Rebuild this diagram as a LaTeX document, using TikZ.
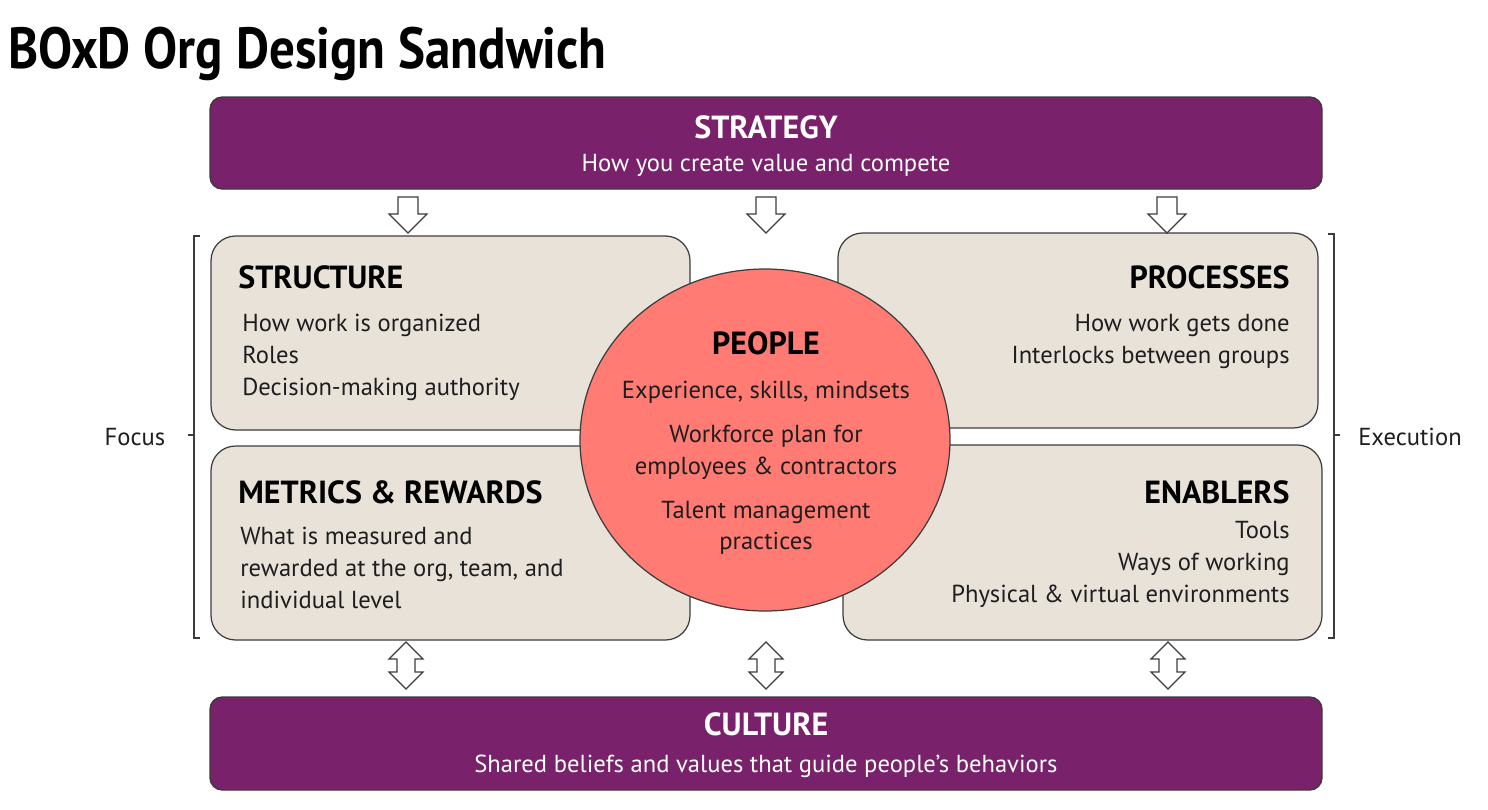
\documentclass[tikz,border=0pt]{standalone}
\usepackage{fontspec}
\setmainfont{PT Sans}
\newfontfamily\titlefont{PT Sans}[FakeStretch=0.88]
\definecolor{purp}{HTML}{79216B}
\definecolor{beige}{HTML}{E8E2D9}
\definecolor{salmon}{HTML}{FF7B73}
\definecolor{edge}{HTML}{3C3C3C}
\definecolor{txt}{HTML}{1E1E1E}
\tikzset{
  band/.style={draw=edge, line width=0.8pt, fill=purp, rounded corners=7pt},
  panel/.style={draw=edge, line width=0.7pt, fill=beige, rounded corners=14pt},
  blockarrow/.style={draw=edge, line width=0.7pt, fill=white, line join=miter},
  bodytxt/.style={inner sep=0pt, text=txt, font=\fontsize{14}{18.1}\selectfont},
  headtxt/.style={inner sep=0pt, text=black, font=\bfseries\fontsize{18.2}{20}\selectfont},
  bandhead/.style={inner sep=0pt, text=white, font=\bfseries\fontsize{18.2}{20}\selectfont},
  bandsub/.style={inner sep=0pt, text=white, font=\fontsize{14}{18}\selectfont},
  brk/.style={draw=edge, line width=0.6pt},
  downarr/.pic={\draw[blockarrow] (-10,0) -- (10,0) -- (10,17) -- (19,17) -- (0,36) -- (-19,17) -- (-10,17) -- cycle;},
  duoarr/.pic={\draw[blockarrow] (0,0) -- (17,17) -- (9,17) -- (9,30) -- (17,30) -- (0,47) -- (-17,30) -- (-9,30) -- (-9,17) -- (-17,17) -- cycle;}
}
\begin{document}
\begin{tikzpicture}[x=0.02cm,y=-0.02cm]
\useasboundingbox (0,0) rectangle (1488,809);

% title
\node[inner sep=0pt, anchor=base west, font=\titlefont\bfseries\fontsize{33}{36}\selectfont] (title) at (8,68) {BOxD Org Design Sandwich};

% strategy band
\draw[band] (210,97) rectangle (1322,189);
\node[bandhead, anchor=base] (strat) at (766,138) {STRATEGY};
\node[bandsub, anchor=base] (stratsub) at (766,171.5) {How you create value and compete};

% culture band
\draw[band] (210,697) rectangle (1322,790);
\node[bandhead, anchor=base] (cult) at (766,735) {CULTURE};
\node[bandsub, anchor=base] (cultsub) at (766,772.5) {Shared beliefs and values that guide people’s behaviors};

% panels
\draw[panel] (211,236) rectangle (690,430);
\draw[panel] (211,446) rectangle (690,640);
\draw[panel] (838,233) rectangle (1318,428);
\draw[panel] (843,445) rectangle (1322,640);

% people circle
\draw[draw=edge, line width=0.7pt, fill=salmon] (765,440) ellipse [x radius=185, y radius=171];

% panel texts
\node[headtxt, anchor=base west] (structure) at (238,288) {STRUCTURE};
\node[bodytxt, anchor=north west, align=left] (structurebody) at (242,314) {How work is organized\\Roles\\Decision-making authority};

\node[headtxt, anchor=base west] (metrics) at (238,503) {METRICS \& REWARDS};
\node[bodytxt, anchor=north west, align=left] (metricsbody) at (240,527) {What is measured and\\rewarded at the org, team, and\\individual level};

\node[headtxt, anchor=base east] (processes) at (1290,288) {PROCESSES};
\node[bodytxt, anchor=north east, align=right] (processesbody) at (1290,314) {How work gets done\\Interlocks between groups};

\node[headtxt, anchor=base east] (enablers) at (1290,503) {ENABLERS};
\node[bodytxt, anchor=north east, align=right] (enablersbody) at (1290,521) {Tools\\Ways of working\\Physical \& virtual environments};

\node[headtxt, anchor=base] (people) at (766,354) {PEOPLE};
\node[bodytxt, anchor=north, align=center] (peoplebody) at (766,381) {Experience, skills, mindsets\\[6.8pt]Workforce plan for\\employees \& contractors\\[6.8pt]Talent management\\practices};

% arrows
\pic at (408,197) {downarr};
\pic at (766,197) {downarr};
\pic at (1167,197) {downarr};
\pic at (406,642) {duoarr};
\pic at (766,642) {duoarr};
\pic at (1168,642) {duoarr};

% brackets
\draw[brk] (200,236) -- (194,236) -- (194,638) -- (200,638);
\coordinate (lt) at (194,435);
\coordinate (ltend) at (188,435);
\draw[brk] (lt) -- (ltend);
\draw[brk] (1328,234) -- (1334,234) -- (1334,638) -- (1328,638);
\coordinate (rt) at (1334,435);
\coordinate (rtend) at (1340,435);
\draw[brk] (rt) -- (rtend);
\node[bodytxt, anchor=base] (focus) at (135,445.5) {Focus};
\node[bodytxt, anchor=base] (exec) at (1410,445.5) {Execution};
\end{tikzpicture}
\end{document}
